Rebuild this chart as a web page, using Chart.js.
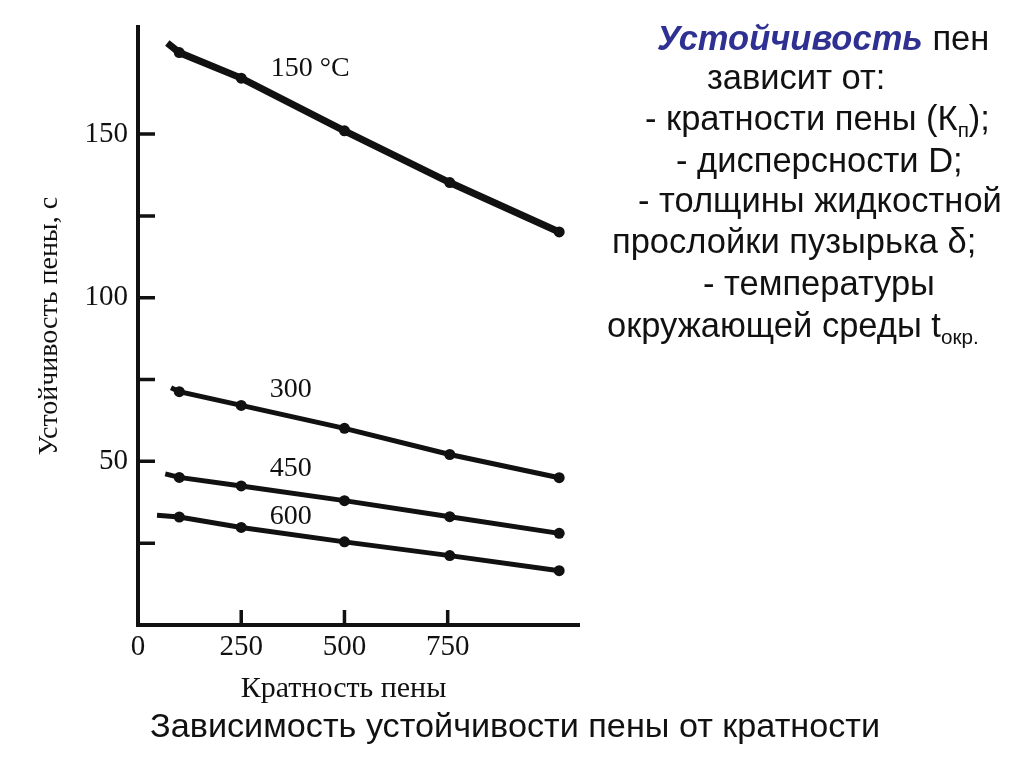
<!DOCTYPE html>
<html lang="ru">
<head>
<meta charset="utf-8">
<title>Зависимость устойчивости пены от кратности</title>
<script src="https://cdn.jsdelivr.net/npm/chart.js@4.4.0/dist/chart.umd.min.js"></script>
<style>
  html, body { margin: 0; padding: 0; background: #fff; }
  #wrap { position: relative; width: 1024px; height: 767px; overflow: hidden; }
  #graphCanvas { position: absolute; left: 0; top: 0; }
  .note { position: absolute; font-family: "Liberation Sans", Arial, sans-serif; font-size: 34.5px;
          line-height: 40px; height: 40px; color: #111; white-space: nowrap; }
  .note b { color: #2e3192; font-style: italic; }
  .note sub { font-size: 60%; vertical-align: -7px; line-height: 0; }
  #caption { position: absolute; left: 150px; top: 706px; font-family: "Liberation Sans Narrow", "Liberation Sans", Arial, sans-serif;
             font-size: 33px; line-height: 40px; color: #111; white-space: nowrap; transform-origin: 0 50%; }
</style>
</head>
<body>
<div id="wrap">
  <canvas id="graphCanvas" width="1024" height="767"></canvas>
  <div class="note" style="left:657px; top:18px;"><b>Устойчивость</b> пен</div>
  <div class="note" style="left:707px; top:57px;">зависит от:</div>
  <div class="note" style="left:645px; top:98px;">- кратности пены (К<sub>п</sub>);</div>
  <div class="note" style="left:676px; top:140px;">- дисперсности D;</div>
  <div class="note" style="left:638px; top:180px;">- толщины жидкостной</div>
  <div class="note" style="left:612px; top:221px;">прослойки пузырька δ;</div>
  <div class="note" style="left:703px; top:263px;">- температуры</div>
  <div class="note" style="left:607px; top:305px;">окружающей среды t<sub>окр.</sub></div>
  <div id="caption">Зависимость устойчивости пены от кратности</div>
</div>
<script>
// кратность пены (x) and устойчивость, с (y) for each temperature line
const kratnost = [100, 250, 500, 755, 1020];
const series150 = [174.9, 167.1, 151.0, 135.2, 120.1];
const series300 = [71.3, 67.1, 60.1, 52.1, 45.0];
const series450 = [45.1, 42.5, 38.0, 33.1, 28.0];
const series600 = [33.0, 29.8, 25.4, 21.2, 16.6];
// the drawn lines start a little left of the first measured point
const lineStartX = [71, 80, 66, 46];
const lineStartY = [177.8, 72.5, 46.2, 33.5];
const seriesLabels = ['150 °C', '300', '450', '600'];
const labelX = [417, 370, 370, 370];
const labelY = [170.1, 72, 47.8, 33.0];
const xTickLabels = [0, 250, 500, 750];
const yTickLabels = [50, 100, 150];
const xTickMarks = [250, 500, 750];
const yTickMarks = [25, 50, 75, 100, 125, 150];

const allSeries = [series150, series300, series450, series600];
const lineWidths = [7, 5, 5, 5];

function makeDataset(vals, i) {
    let pts = [{x: lineStartX[i], y: lineStartY[i]}];
    for (let k = 0; k < kratnost.length; k++) {
        pts.push({x: kratnost[k], y: vals[k]});
    }
    return {
        label: seriesLabels[i],
        data: pts,
        borderColor: '#111',
        backgroundColor: '#111',
        borderWidth: lineWidths[i],
        pointRadius: pts.map((p, k) => k === 0 ? 0 : 5.5),
        pointBorderWidth: 0,
        tension: 0
    };
}

// inside tick marks and the temperature labels next to the lines
const markPlugin = {
    id: 'markPlugin',
    afterDatasetsDraw(chart) {
        const ctx = chart.ctx;
        const x = chart.scales.x;
        const y = chart.scales.y;
        ctx.save();
        ctx.strokeStyle = '#111';
        ctx.lineWidth = 3.5;
        ctx.beginPath();
        xTickMarks.forEach(v => {
            let px = x.getPixelForValue(v);
            ctx.moveTo(px, y.bottom);
            ctx.lineTo(px, y.bottom - 15);
        });
        yTickMarks.forEach(v => {
            let py = y.getPixelForValue(v);
            ctx.moveTo(x.left, py);
            ctx.lineTo(x.left + 17, py);
        });
        ctx.stroke();
        ctx.fillStyle = '#111';
        ctx.font = '28px "Liberation Serif", "DejaVu Serif", serif';
        ctx.textAlign = 'center';
        ctx.textBaseline = 'middle';
        seriesLabels.forEach((t, i) => {
            ctx.fillText(t, x.getPixelForValue(labelX[i]), y.getPixelForValue(labelY[i]));
        });
        ctx.restore();
    }
};

const serif = '"Liberation Serif", "DejaVu Serif", serif';

new Chart(document.getElementById('graphCanvas'), {
    type: 'line',
    data: { datasets: allSeries.map(makeDataset) },
    options: {
        responsive: false,
        animation: false,
        layout: { padding: { left: 0, top: 26, right: 445, bottom: 0 } },
        plugins: { legend: { display: false }, tooltip: { enabled: false } },
        scales: {
            x: {
                type: 'linear',
                min: 0,
                max: 1068,
                afterBuildTicks(scale) { scale.ticks = xTickLabels.map(v => ({value: v})); },
                afterFit(scale) { scale.height = 142; },
                grid: { display: false, drawTicks: false },
                border: { display: true, color: '#111', width: 4 },
                ticks: {
                    autoSkip: false,
                    maxRotation: 0,
                    padding: 5,
                    color: '#111',
                    font: { family: serif, size: 29 }
                },
                title: {
                    display: true,
                    // trailing em space nudges the centred title a bit to the left
                    text: 'Кратность пены\u2003',
                    color: '#111',
                    font: { family: serif, size: 30 },
                    padding: { top: 0, bottom: 60 }
                }
            },
            y: {
                min: 0,
                max: 182.6,
                afterBuildTicks(scale) { scale.ticks = yTickLabels.map(v => ({value: v})); },
                afterFit(scale) { scale.width = 138; },
                grid: { display: false, drawTicks: false },
                border: { display: true, color: '#111', width: 4 },
                ticks: {
                    autoSkip: false,
                    padding: 10,
                    color: '#111',
                    font: { family: serif, size: 29 }
                },
                title: {
                    display: true,
                    text: 'Устойчивость пены, с',
                    color: '#111',
                    font: { family: serif, size: 28 },
                    padding: { top: 33, bottom: 0 }
                }
            }
        }
    },
    plugins: [markPlugin]
});

// stretch the caption to the width it has on the slide
const cap = document.getElementById('caption');
cap.style.transform = 'scaleX(' + (730 / cap.offsetWidth) + ')';
</script>
</body>
</html>
